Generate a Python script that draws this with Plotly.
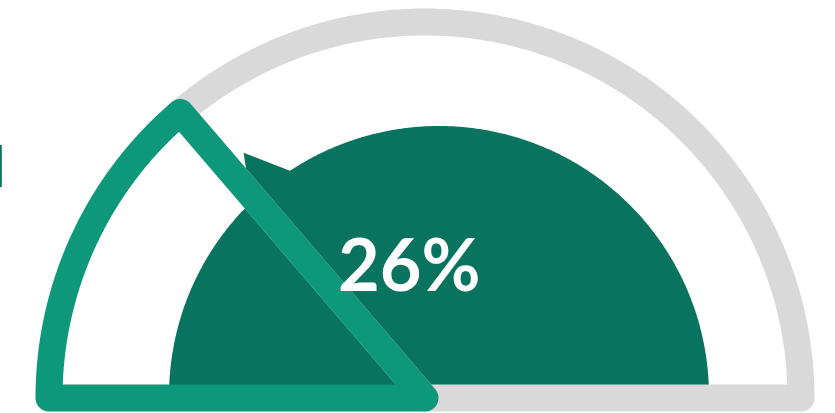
import numpy as np
import plotly.graph_objects as go

# ---- data ----
categories = ["Achieved", "Remaining"]
values = [26, 74]          # percent
value_label = f"<b>{values[0]}%</b>"

# ---- style / geometry ----
W, H = 835, 413
GAUGE_CX, GAUGE_CY, GAUGE_R = 425, 398, 376
STROKE = 27
SWEEP = 190.0              # degrees of visual sweep per 100 % (gauge)
NEEDLE_SWEEP = 197.0       # degrees of visual sweep per 100 % (needle)
DIAL_CX, DIAL_CY, DIAL_R = 439, 396, 270
NEEDLE_LEN, NEEDLE_BASE = 312, 250
GRAY = "#d9d9d9"
GREEN = "#0d987b"
DARK = "#08735e"


def u(deg):
    a = np.radians(deg)
    return np.array([np.cos(a), np.sin(a)])


def to_px(p, cx, cy):
    return cx + p[0], cy - p[1]


def arc_pts(center, r, d0, d1, n=120):
    return [center + r * u(d) for d in np.linspace(d0, d1, n)]


def stroked_sector_path(a0, a1, R, h, cx, cy):
    """SVG path (data coords) of a sector outline stroked with half-width h, round joins."""
    O = np.array([0.0, 0.0])
    P0, P1 = R * u(a0), R * u(a1)
    outer = []
    outer += [O + h * u(a0 - 90), P0 + h * u(a0 - 90)]
    outer += arc_pts(P0, h, a0 - 90, a0, 30)
    outer += arc_pts(O, R + h, a0, a1, 300)
    outer += arc_pts(P1, h, a1, a1 + 90, 30)
    outer += [O + h * u(a1 + 90)]
    outer += arc_pts(O, h, a1 + 90, a0 + 270, 40)
    half = (a1 - a0) / 2
    d = h / np.sin(np.radians(half))
    dl = np.degrees(np.arcsin(h / (R - h)))
    inner = [d * u((a0 + a1) / 2)] + arc_pts(O, R - h, a0 + dl, a1 - dl, 300)

    def seg(pts):
        px = [to_px(p, cx, cy) for p in pts]
        return "M" + " L".join(f"{x:.2f},{y:.2f}" for x, y in px) + " Z"

    return seg(outer) + " " + seg(inner)


def pt(cx, cy, r, deg):
    v = r * u(deg)
    return cx + v[0], cy - v[1]


theta = 180 - values[0] / 100 * SWEEP   # boundary angle (deg, from +x, ccw)
ntheta = 180 - values[0] / 100 * NEEDLE_SWEEP

fig = go.Figure()

# dial (dark semicircle)
angs = np.linspace(0, 180, 361)
dx = DIAL_CX + DIAL_R * np.cos(np.radians(angs))
dy = DIAL_CY - DIAL_R * np.sin(np.radians(angs))
fig.add_trace(go.Scatter(x=list(dx), y=list(dy), fill="toself", fillcolor=DARK,
                         mode="lines", line=dict(width=0, color=DARK, simplify=False),
                         hoverinfo="skip", showlegend=False))
# needle
tip = pt(DIAL_CX, DIAL_CY, NEEDLE_LEN, ntheta)
half = (NEEDLE_LEN - NEEDLE_BASE) * np.tan(np.radians(30))
bx, by = pt(DIAL_CX, DIAL_CY, NEEDLE_BASE, ntheta)
n = u(ntheta + 90)
nx, ny = n[0], -n[1]
fig.add_trace(go.Scatter(x=[tip[0], bx + half * nx, bx - half * nx, tip[0]],
                         y=[tip[1], by + half * ny, by - half * ny, tip[1]],
                         fill="toself", fillcolor=DARK, mode="lines",
                         line=dict(width=0, color=DARK, simplify=False),
                         hoverinfo="skip", showlegend=False))

# remaining (gray) and achieved (green) sectors as stroked outlines
fig.add_shape(type="path", xref="x", yref="y", layer="above",
              path=stroked_sector_path(0, theta, GAUGE_R, STROKE / 2, GAUGE_CX, GAUGE_CY),
              fillcolor=GRAY, fillrule="evenodd", line=dict(width=0), name=categories[1])
fig.add_shape(type="path", xref="x", yref="y", layer="above",
              path=stroked_sector_path(theta, 180, GAUGE_R, STROKE / 2, GAUGE_CX, GAUGE_CY),
              fillcolor=GREEN, fillrule="evenodd", line=dict(width=0), name=categories[0])

fig.add_annotation(x=409, y=263, text=value_label, showarrow=False,
                   font=dict(family="Lato", size=72, color="white"),
                   xanchor="center", yanchor="middle")

fig.add_shape(type="line", x0=0.8, x1=0.8, y0=145, y1=187,
              line=dict(color=DARK, width=2))

fig.update_xaxes(range=[0, W], visible=False, fixedrange=True)
fig.update_yaxes(range=[H, 0], visible=False, fixedrange=True)
fig.update_layout(width=W, height=H, margin=dict(l=0, r=0, t=0, b=0),
                  paper_bgcolor="white", plot_bgcolor="white")
fig.update_traces(cliponaxis=False)
fig.write_html("out.html")
